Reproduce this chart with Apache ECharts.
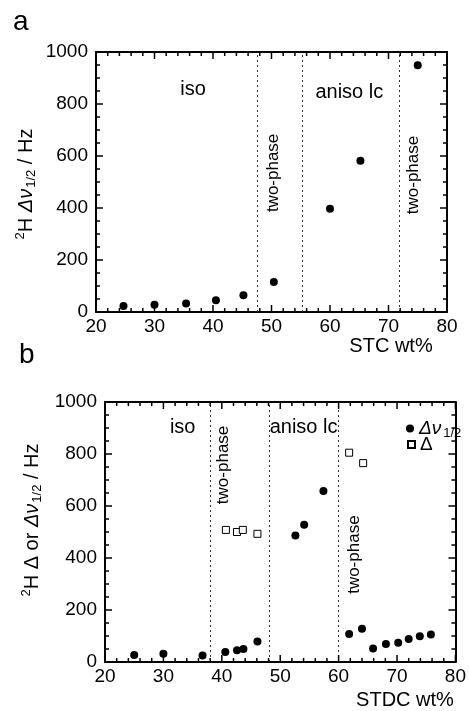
<!DOCTYPE html>
<html>
<head>
<meta charset="utf-8">
<script src="https://cdn.jsdelivr.net/npm/echarts@6/dist/echarts.min.js"></script>
<style>
  html, body { margin: 0; padding: 0; background: #fff; }
  #main { width: 469px; height: 711px; }
</style>
</head>
<body>
<div id="main"></div>
<script>
// panel a: STC
const stcWt = [24.7, 30, 35.4, 40.5, 45.2, 50.4, 60, 65.2, 75];
const stcWidth = [23, 28, 33, 45, 64, 115, 397, 582, 949];
const stcBounds = [47.6, 55.2, 71.9];
const stcPhases = [['iso', 36.6, 854], ['aniso lc', 63.3, 846]];
const stcTwoPhase = [['two-phase', 50.3, 535], ['two-phase', 74.2, 527]];

// panel b: STDC
const stdcWtDnu = [25, 30, 36.7, 40.6, 42.6, 43.7, 46.1, 52.6, 54.1, 57.4, 61.8, 64.0, 65.9, 68.1, 70.2, 72.0, 73.9, 75.8];
const stdcDnu = [27, 32, 25, 38, 45, 50, 79, 487, 528, 658, 108, 128, 52, 69, 74, 88, 99, 106];
const stdcWtDelta = [40.7, 42.6, 43.6, 46.1, 61.8, 64.2];
const stdcDelta = [508, 500, 508, 493, 805, 765];
const stdcBounds = [38, 48.1, 60];
const stdcPhases = [['iso', 33.3, 901], ['aniso lc', 54.0, 901]];
const stdcTwoPhase = [['two-phase', 40.3, 758], ['two-phase', 62.7, 413]];

// axis ranges and tick steps (same for both panels)
const X_MIN = 20, X_MAX = 80, X_MAJOR = 10, X_MINOR = 2;
const Y_MIN = 0, Y_MAX = 1000, Y_MAJOR = 200, Y_MINOR = 50;

const FONT = '"Liberation Sans", Arial, Helvetica, sans-serif';

const zip = (xs, ys) => xs.map((x, i) => [x, ys[i]]);

function axis(isX, gridIndex, position, showLabel) {
  return {
    type: 'value',
    gridIndex: gridIndex,
    position: position,
    min: isX ? X_MIN : Y_MIN,
    max: isX ? X_MAX : Y_MAX,
    interval: isX ? X_MAJOR : Y_MAJOR,
    axisLine: { show: true, onZero: false, lineStyle: { color: '#000', width: 2 } },
    axisTick: { show: false },
    minorTick: { show: false },
    axisLabel: {
      show: showLabel, color: '#000', fontSize: 19, fontFamily: FONT,
      margin: isX ? 5 : 8, formatter: v => String(v)
    },
    splitLine: { show: false },
    minorSplitLine: { show: false }
  };
}

// inward frame ticks, each item [x, y, length, side] with x/y inside the axis ranges
function tickList() {
  const out = [];
  for (let v = X_MIN; v <= X_MAX; v += X_MINOR) out.push([v, Y_MIN, v % X_MAJOR === 0 ? 7 : 4, 0]);
  for (let v = Y_MIN; v <= Y_MAX; v += Y_MINOR) out.push([X_MIN, v, v % Y_MAJOR === 0 ? 7 : 4, 1]);
  return out;
}

function renderTick(params, api) {
  const len = api.value(2);
  const side = api.value(3);
  const style = { stroke: '#000', lineWidth: 1.5 };
  if (side === 0) {
    const v = api.value(0);
    const b = api.coord([v, Y_MIN]);
    const t = api.coord([v, Y_MAX]);
    return { type: 'group', children: [
      { type: 'line', shape: { x1: b[0], y1: b[1], x2: b[0], y2: b[1] - len }, style: style },
      { type: 'line', shape: { x1: t[0], y1: t[1], x2: t[0], y2: t[1] + len }, style: style }
    ] };
  }
  const v = api.value(1);
  const l = api.coord([X_MIN, v]);
  const r = api.coord([X_MAX, v]);
  return { type: 'group', children: [
    { type: 'line', shape: { x1: l[0], y1: l[1], x2: l[0] + len, y2: l[1] }, style: style },
    { type: 'line', shape: { x1: r[0], y1: r[1], x2: r[0] - len, y2: r[1] }, style: style }
  ] };
}

function ticks(gi) {
  return {
    type: 'custom',
    xAxisIndex: gi * 2,
    yAxisIndex: gi * 2,
    silent: true,
    clip: false,
    z: 5,
    dimensions: ['x', 'y', 'len', 'side'],
    encode: { x: 0, y: 1 },
    renderItem: renderTick,
    data: tickList()
  };
}

function bounds(values) {
  return {
    silent: true,
    symbol: 'none',
    label: { show: false },
    lineStyle: { color: '#333', type: [2, 3], width: 1, opacity: 1 },
    data: values.map(v => ({ xAxis: v }))
  };
}

function notes(gi, data, rotate, size) {
  return {
    type: 'scatter',
    xAxisIndex: gi * 2,
    yAxisIndex: gi * 2,
    silent: true,
    symbolSize: 0,
    itemStyle: { opacity: 1 },
    data: data.map(d => [d[1], d[2], d[0]]),
    label: {
      show: true,
      position: 'inside',
      rotate: rotate,
      formatter: p => p.data[2],
      color: '#000',
      opacity: 1,
      fontSize: size,
      fontFamily: FONT
    }
  };
}

const titleRich = {
  sup: { fontSize: 13, fontFamily: FONT, lineHeight: 13, verticalAlign: 'top', fill: '#000' },
  sub: { fontSize: 13, fontFamily: FONT, lineHeight: 13, verticalAlign: 'bottom', fill: '#000', padding: [0, 0, 0, 1] },
  it: { fontSize: 20, fontFamily: FONT, fontStyle: 'italic', lineHeight: 24, fill: '#000' },
  n: { fontSize: 20, fontFamily: FONT, lineHeight: 24, fill: '#000' }
};

const legendText = {
  color: '#000', fontSize: 19, fontFamily: FONT,
  rich: {
    it: { fontSize: 19, fontFamily: FONT, fontStyle: 'italic', lineHeight: 22, color: '#000' },
    sub: { fontSize: 13, fontFamily: FONT, lineHeight: 12, verticalAlign: 'bottom', color: '#000', padding: [0, 0, 0, 2] },
    n: { fontSize: 19, fontFamily: FONT, lineHeight: 22, color: '#000' }
  }
};

const chart = echarts.init(document.getElementById('main'));

const option = {
  animation: false,
  backgroundColor: '#fff',
  grid: [
    { left: 96, top: 52, width: 351, height: 260 },
    { left: 105, top: 402, width: 351, height: 260 }
  ],
  xAxis: [
    axis(true, 0, 'bottom', true),
    axis(true, 0, 'top', false),
    axis(true, 1, 'bottom', true),
    axis(true, 1, 'top', false)
  ],
  yAxis: [
    axis(false, 0, 'left', true),
    axis(false, 0, 'right', false),
    axis(false, 1, 'left', true),
    axis(false, 1, 'right', false)
  ],
  legend: [
    {
      data: [{ name: 'dnu', icon: 'circle' }],
      left: 401, top: 414, itemWidth: 8, itemHeight: 8,
      selectedMode: false,
      formatter: () => '{it|Δν}{sub|1/2}',
      textStyle: legendText
    },
    {
      data: [{ name: 'delta', icon: 'rect' }],
      left: 402, top: 430, itemWidth: 7, itemHeight: 7,
      selectedMode: false,
      formatter: () => '{n|Δ}',
      textStyle: legendText
    }
  ],
  graphic: [
    { type: 'text', left: 13, top: 8, style: { text: 'a', font: '28px ' + FONT, fill: '#000' } },
    { type: 'text', left: 19, top: 341, style: { text: 'b', font: '28px ' + FONT, fill: '#000' } },
    {
      type: 'text', x: 391, y: 346,
      style: { text: 'STC wt%', font: '20px ' + FONT, fill: '#000', align: 'center', verticalAlign: 'middle' }
    },
    {
      type: 'text', x: 405, y: 700,
      style: { text: 'STDC wt%', font: '20px ' + FONT, fill: '#000', align: 'center', verticalAlign: 'middle' }
    },
    {
      type: 'text', x: 26, y: 184, rotation: Math.PI / 2,
      style: {
        text: '{sup|2}{n|H }{it|Δν}{sub|1/2}{n| / Hz}',
        rich: titleRich, align: 'center', verticalAlign: 'middle', fill: '#000'
      }
    },
    {
      type: 'text', x: 32, y: 520, rotation: Math.PI / 2,
      style: {
        text: '{sup|2}{n|H Δ or }{it|Δν}{sub|1/2}{n| / Hz}',
        rich: titleRich, align: 'center', verticalAlign: 'middle', fill: '#000'
      }
    }
  ],
  series: [
    ticks(0),
    ticks(1),
    {
      name: 'stc',
      type: 'scatter',
      xAxisIndex: 0, yAxisIndex: 0,
      symbol: 'circle', symbolSize: 8,
      itemStyle: { color: '#000', opacity: 1 },
      data: zip(stcWt, stcWidth),
      markLine: bounds(stcBounds)
    },
    notes(0, stcPhases, 0, 20),
    notes(0, stcTwoPhase, 90, 17),
    {
      name: 'dnu',
      type: 'scatter',
      xAxisIndex: 2, yAxisIndex: 2,
      symbol: 'circle', symbolSize: 8,
      itemStyle: { color: '#000', opacity: 1 },
      data: zip(stdcWtDnu, stdcDnu),
      markLine: bounds(stdcBounds)
    },
    {
      name: 'delta',
      type: 'scatter',
      xAxisIndex: 2, yAxisIndex: 2,
      symbol: 'rect', symbolSize: 7,
      itemStyle: { color: '#fff', borderColor: '#000', borderWidth: 1, opacity: 1 },
      data: zip(stdcWtDelta, stdcDelta)
    },
    notes(1, stdcPhases, 0, 20),
    notes(1, stdcTwoPhase, 90, 17)
  ]
};

chart.setOption(option);
</script>
</body>
</html>
